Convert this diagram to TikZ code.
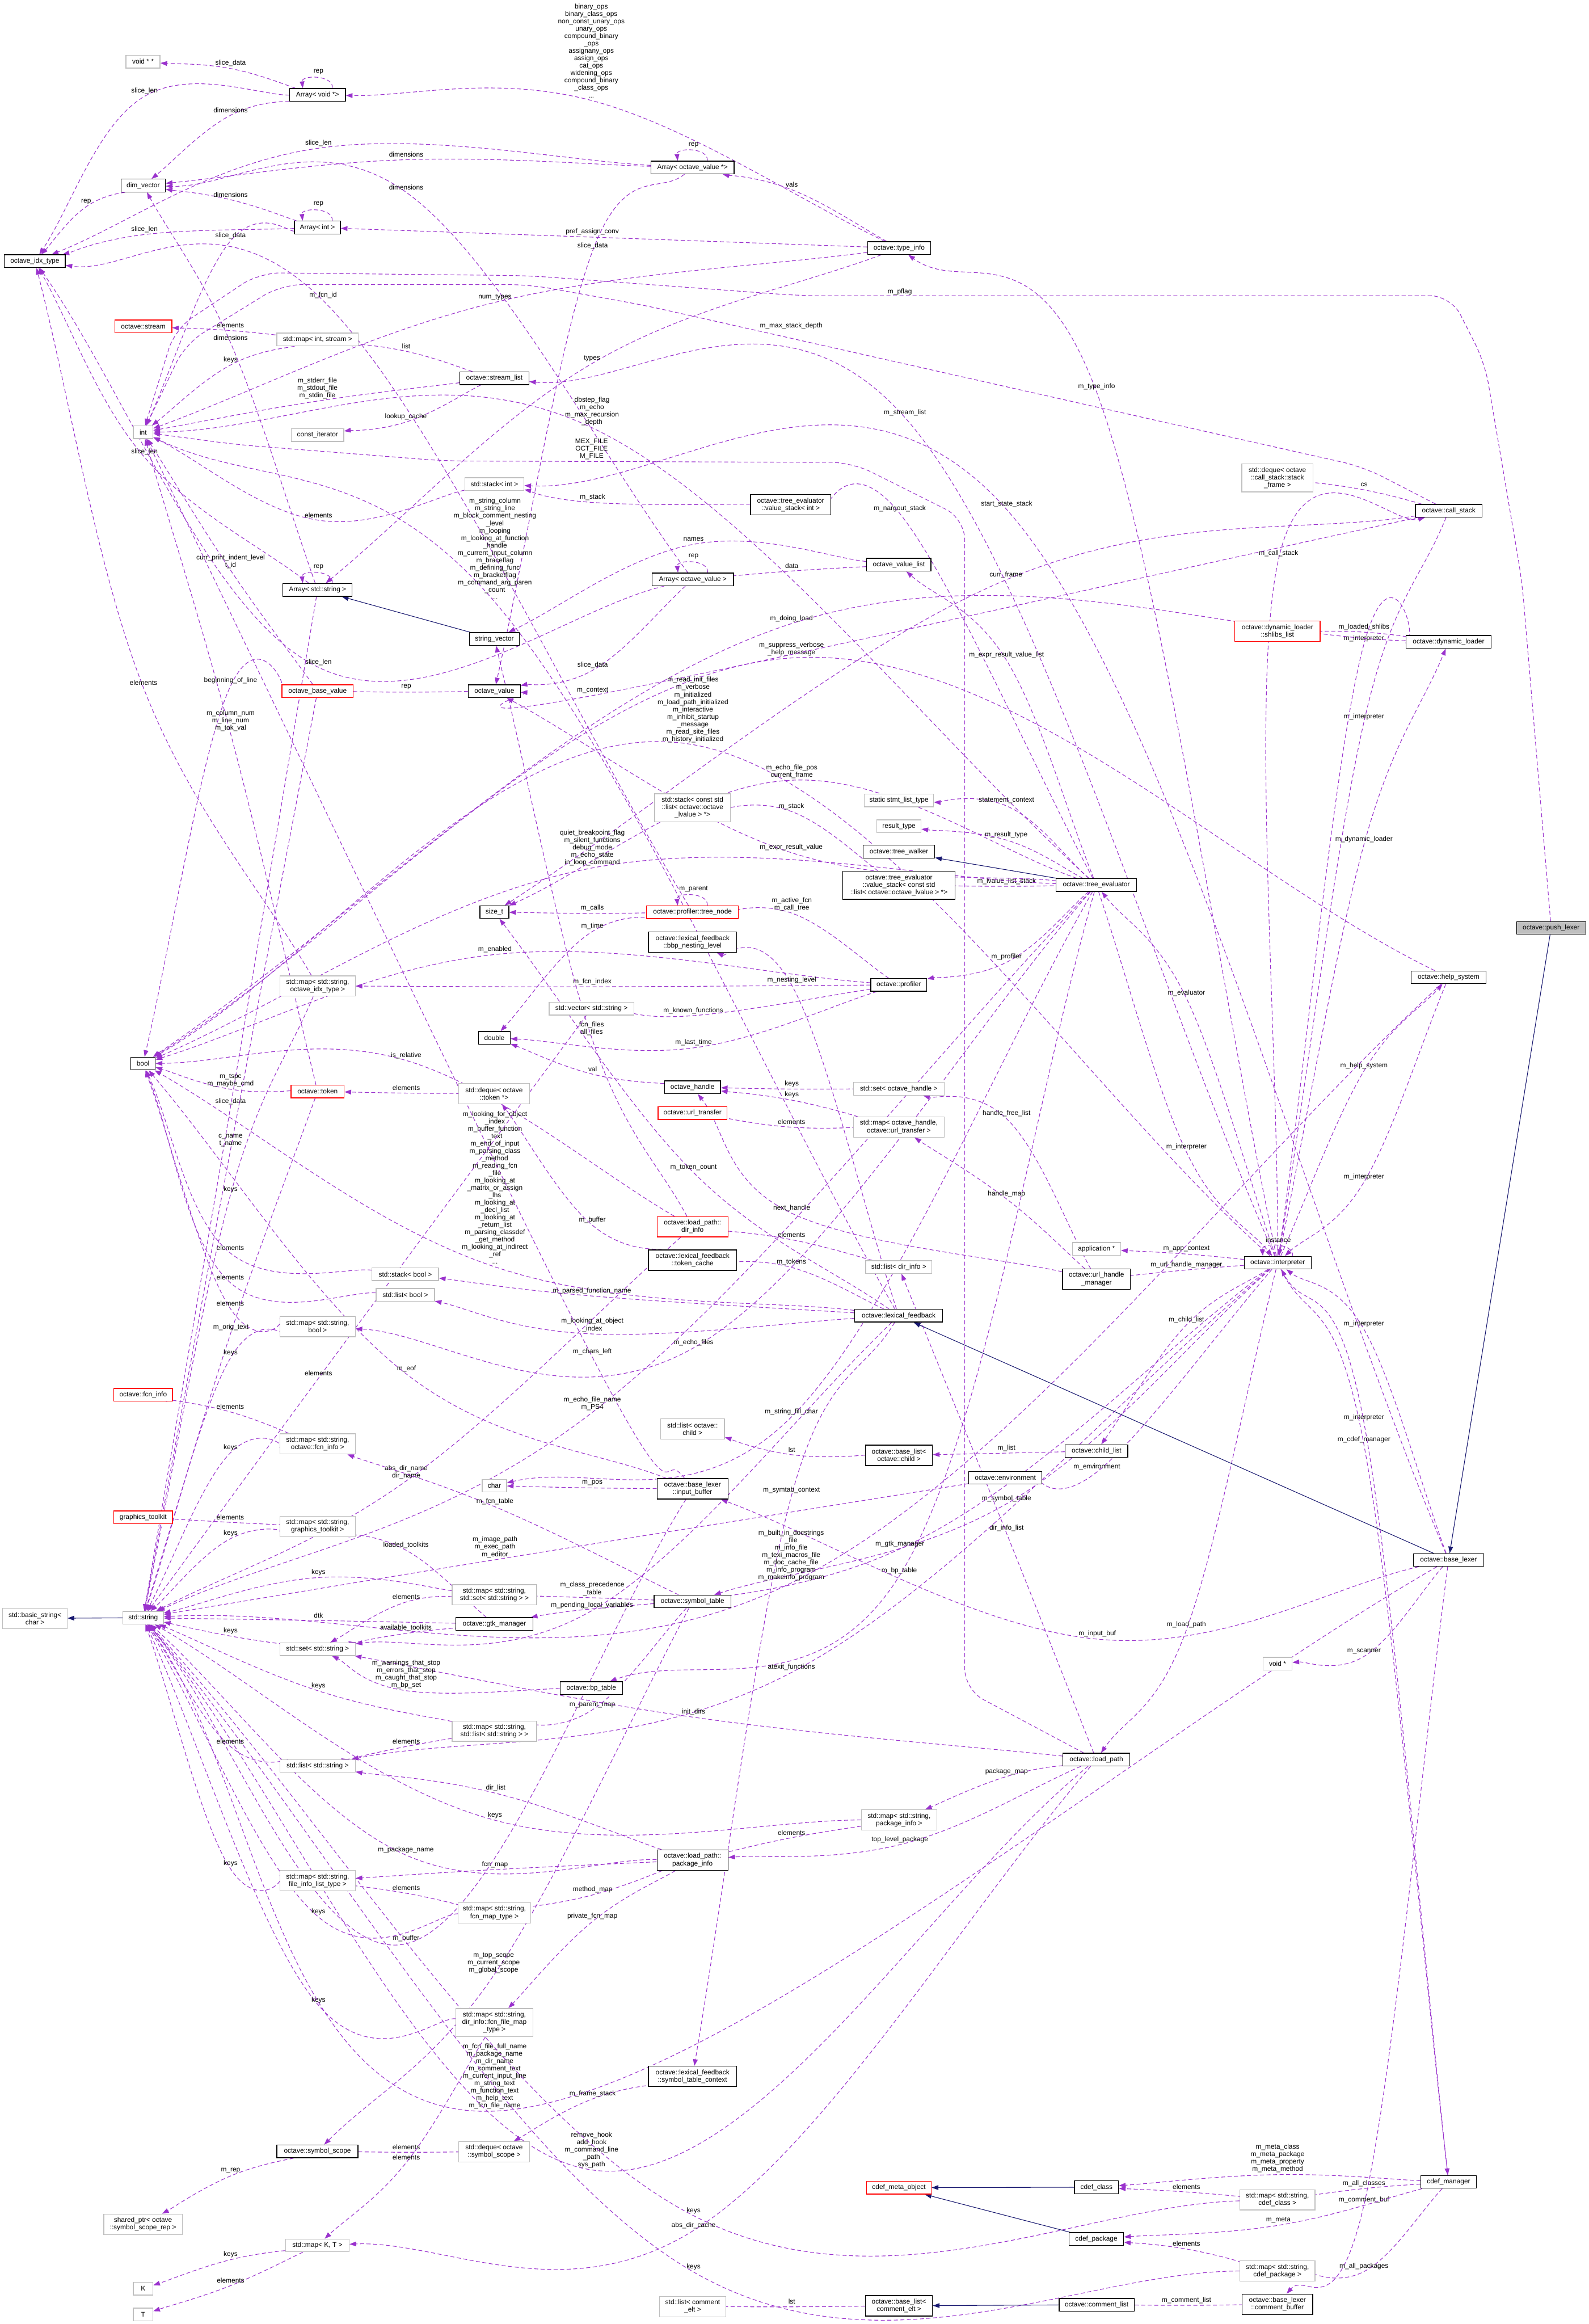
\documentclass[tikz,border=0pt]{standalone}
\usepackage{fontspec}
\setmainfont{Liberation Sans}
\usetikzlibrary{arrows.meta,calc}
\pgfdeclarelayer{bg}
\pgfsetlayers{bg,main}
\definecolor{depcol}{HTML}{9A32CD}
\definecolor{inhcol}{HTML}{191970}
\definecolor{grayb}{HTML}{BFBFBF}
\newcommand\dfont{\fontsize{13}{14.2}\selectfont}
\newcount\labc
\tikzset{
  cls/.style={draw=black, line width=0.5mm, fill=white, inner sep=0.4mm, align=center, font=\dfont},
  ext/.style={cls, draw=grayb},
  redc/.style={cls, draw=red},
  root/.style={cls, fill=grayb},
  dep/.style={draw=depcol, line width=0.42mm, dash pattern=on 2.7mm off 1.7mm, -{Triangle[length=4.5mm,width=3.2mm]}},
  inh/.style={draw=inhcol, line width=0.42mm, -{Triangle[length=4.5mm,width=3.2mm]}},
  lbl/.style={font=\dfont, align=center, inner sep=0}
}
\newcommand\nd[6]{\node[#1,minimum width=#2mm,minimum height=#3mm] (#4) at (#5) {#6};}
\newcommand\edg[5]{%
  \global\advance\labc by 1
  \path (#3) ++(0,{#4*2.5+1}) coordinate (v\the\labc);
  \draw[dep] (#1) .. controls ($(#1)!0.333!(v\the\labc)$) and ($(v\the\labc)-0.1667*(#2)+0.1667*(#1)$) .. (v\the\labc)
     .. controls ($(v\the\labc)+0.1667*(#2)-0.1667*(#1)$) and ($(#2)!0.333!(v\the\labc)$) .. (#2);
  \node[lbl] (lab\the\labc) at (#3) {#5};}
\newcommand\sloop[4]{%
  \global\advance\labc by 1
  \draw[dep] ([xshift=#2mm]#1.north) .. controls +(1,-9) and +(-1,-9) .. ([xshift=-#2mm]#1.north);
  \node[lbl] (lab\the\labc) at (#3) {#4};}
\newcommand\lab[2]{\global\advance\labc by 1 \node[lbl] (lab\the\labc) at (#1) {#2};}
\begin{document}
\begin{tikzpicture}[x=1mm,y=-1mm]
\useasboundingbox (0,0) rectangle (1072,1568);
% ---------------- nodes
\nd{ext}{23}{8.6}{voidpp}{96.5,41.6}{void * *}
\nd{cls}{37.6}{8.6}{arrvoid}{214.3,64}{Array< void *>}
\nd{cls}{56}{8.6}{arrovp}{467.3,113}{Array< octave\_value *>}
\nd{cls}{30}{8.6}{dimv}{96.6,125.2}{dim\_vector}
\nd{cls}{31}{8.6}{arrint}{214.2,153.5}{Array< int >}
\nd{cls}{42.6}{8.6}{typeinfo}{606.7,167.4}{octave::type\_info}
\nd{cls}{41}{8.6}{idx}{23.5,176.2}{octave\_idx\_type}
\nd{redc}{38.5}{8.6}{stream}{96.7,220.2}{octave::stream}
\nd{ext}{55}{8.6}{mapint}{214.3,229}{std::map< int, stream >}
\nd{cls}{46.5}{8.6}{streamlist}{333.6,255.2}{octave::stream\_list}
\nd{ext}{13.2}{8.6}{int}{96.6,291.6}{int}
\nd{ext}{35.3}{8.6}{constit}{214.3,293.5}{const\_iterator}
\nd{ext}{40}{8.6}{stackint}{333.6,326.6}{std::stack< int >}
\nd{cls}{54}{13.75}{vsint}{533.5,340.6}{octave::tree\_evaluator\\::value\_stack< int >}
\nd{ext}{48}{19}{csdeque}{862,322.4}{std::deque< octave\\::call\_stack::stack\\\_frame >}
\nd{cls}{44.9}{8.6}{callstack}{977.6,344.6}{octave::call\_stack}
\nd{cls}{43.3}{8.6}{ovl}{606.5,381}{octave\_value\_list}
\nd{cls}{55}{8.6}{arrov}{467.5,390.9}{Array< octave\_value >}
\nd{cls}{46.7}{8.6}{arrstr}{214.3,398}{Array< std::string >}
\nd{redc}{57.6}{13.75}{shlibs}{862,425.9}{octave::dynamic\_loader\\::shlibs\_list}
\nd{cls}{57.6}{8.6}{dynload}{977.5,433.1}{octave::dynamic\_loader}
\nd{cls}{33.7}{8.6}{strvec}{333.6,431.1}{string\_vector}
\nd{redc}{48}{8.6}{obv}{214.3,466.3}{octave\_base\_value}
\nd{cls}{35}{8.6}{ov}{333.6,466.3}{octave\_value}
\nd{ext}{51}{19}{stacklv}{467.3,545}{std::stack< const std\\::list< octave::octave\\\_lvalue > *>}
\nd{ext}{46.7}{8.6}{stmtlist}{606.6,540}{static stmt\_list\_type}
\nd{ext}{29.9}{8.6}{resulttype}{606.6,557.4}{result\_type}
\nd{cls}{48.3}{8.6}{treewalker}{606.6,574.6}{octave::tree\_walker}
\nd{cls}{75.7}{19}{vslv}{606.6,597.25}{octave::tree\_evaluator\\::value\_stack< const std\\::list< octave::octave\_lvalue > *>}
\nd{cls}{54.2}{8.6}{treeeval}{739.8,597.1}{octave::tree\_evaluator}
\nd{cls}{19.6}{8.6}{sizet}{333.6,615.4}{size\_t}
\nd{redc}{62}{8.6}{treenode}{467.3,615.5}{octave::profiler::tree\_node}
\nd{root}{46.7}{8.6}{pushlexer}{1046.7,626.1}{octave::push\_lexer}
\nd{cls}{59.5}{13.75}{bbp}{467.3,635.75}{octave::lexical\_feedback\\::bbp\_nesting\_level}
\nd{cls}{50.4}{8.6}{helpsys}{977.5,659.4}{octave::help\_system}
\nd{cls}{37.8}{8.6}{profiler}{606.5,664.5}{octave::profiler}
\nd{ext}{50.8}{13.75}{mapidx}{214.3,665.25}{std::map< std::string,\\octave\_idx\_type >}
\nd{ext}{57.2}{8.6}{vecstr}{399.1,680.5}{std::vector< std::string >}
\nd{cls}{21.4}{8.6}{double}{333.6,700.25}{double}
\nd{cls}{16.6}{8.6}{bool}{96.5,717.6}{bool}
\nd{cls}{37.8}{8.6}{ohandle}{467.3,733.6}{octave\_handle}
\nd{ext}{61.3}{8.6}{setoh}{606.5,734.6}{std::set< octave\_handle >}
\nd{redc}{35.8}{8.6}{token}{214.3,736.4}{octave::token}
\nd{ext}{47.8}{13.75}{dequetok}{333.4,737.9}{std::deque< octave\\::token *>}
\nd{redc}{46.5}{8.6}{urltransfer}{467.3,751}{octave::url\_transfer}
\nd{ext}{61.3}{13.75}{mapoh}{606.5,760.4}{std::map< octave\_handle,\\octave::url\_transfer >}
\nd{redc}{47.9}{13.75}{dirinfo}{467.3,827.7}{octave::load\_path::\\dir\_info}
\nd{ext}{32.6}{8.6}{appctx}{739.9,842.7}{application *}
\nd{cls}{59.5}{13.75}{tokcache}{467.3,850.2}{octave::lexical\_feedback\\::token\_cache}
\nd{cls}{45.1}{8.6}{interp}{862.2,851.9}{octave::interpreter}
\nd{ext}{44.7}{8.6}{listdir}{606.5,854.9}{std::list< dir\_info >}
\nd{ext}{44.9}{8.6}{stackbool}{273.5,859.7}{std::stack< bool >}
\nd{cls}{45.8}{13.75}{urlhm}{739.9,863}{octave::url\_handle\\\_manager}
\nd{ext}{39.4}{8.6}{listbool}{273.5,873.7}{std::list< bool >}
\nd{cls}{59.5}{8.6}{lexfb}{606.4,887.7}{octave::lexical\_feedback}
\nd{ext}{50.8}{13.75}{mapbool}{214.3,895}{std::map< std::string,\\bool >}
\nd{redc}{39.6}{8.6}{fcninfo}{96.6,941}{octave::fcn\_info}
\nd{ext}{43.1}{13.75}{listchild}{467.3,964.2}{std::list< octave::\\child >}
\nd{ext}{50.8}{13.75}{mapfcn}{214.3,974.2}{std::map< std::string,\\octave::fcn\_info >}
\nd{cls}{42.2}{8.6}{childlist}{739.9,979}{octave::child\_list}
\nd{cls}{45.3}{13.75}{baselistchild}{606.6,981.9}{octave::base\_list<\\octave::child >}
\nd{cls}{49.4}{8.6}{env}{678.4,997}{octave::environment}
\nd{ext}{16.4}{8.6}{char}{333.6,1002.4}{char}
\nd{cls}{47.9}{13.75}{inbuf}{467.3,1004.5}{octave::base\_lexer\\::input\_buffer}
\nd{redc}{39.6}{8.6}{gtk}{96.6,1023.7}{graphics\_toolkit}
\nd{ext}{50.8}{13.75}{mapgtk}{214.3,1029.9}{std::map< std::string,\\graphics\_toolkit >}
\nd{cls}{47.6}{8.6}{baselexer}{977.5,1052.5}{octave::base\_lexer}
\nd{ext}{57}{13.75}{mapsetstr}{333.6,1076}{std::map< std::string,\\std::set< std::string > >}
\nd{cls}{51.9}{8.6}{symtab}{467.3,1080.5}{octave::symbol\_table}
\nd{ext}{43.5}{13.75}{basicstr}{23.6,1091.9}{std::basic\_string<\\char >}
\nd{ext}{27.4}{8.6}{string}{96.6,1091.5}{std::string}
\nd{cls}{52}{8.6}{gtkman}{333.6,1095.7}{octave::gtk\_manager}
\nd{ext}{50.8}{8.6}{setstr}{214.3,1112.7}{std::set< std::string >}
\nd{ext}{19.6}{8.6}{voidp}{862.1,1122.5}{void *}
\nd{cls}{42}{8.6}{bptable}{399,1139}{octave::bp\_table}
\nd{ext}{57}{13.75}{maplist}{333.6,1168}{std::map< std::string,\\std::list< std::string > >}
\nd{cls}{45.1}{8.6}{loadpath}{739.8,1187.2}{octave::load\_path}
\nd{ext}{50.8}{8.6}{liststr}{214.3,1191.5}{std::list< std::string >}
\nd{ext}{50.8}{13.75}{mappkg}{606.7,1227.9}{std::map< std::string,\\package\_info >}
\nd{cls}{47.9}{13.75}{pkginfo}{467.3,1255}{octave::load\_path::\\package\_info}
\nd{ext}{50.8}{13.75}{mapfilst}{214.3,1268.9}{std::map< std::string,\\file\_info\_list\_type >}
\nd{ext}{49}{13.75}{mapfcnmap}{333.6,1290.6}{std::map< std::string,\\fcn\_map\_type >}
\nd{ext}{52}{19}{mapfcnfile}{333.6,1364.6}{std::map< std::string,\\dir\_info::fcn\_file\_map\\\_type >}
\nd{cls}{59.5}{13.75}{symtabctx}{467.3,1401}{octave::lexical\_feedback\\::symbol\_table\_context}
\nd{cls}{54.7}{8.6}{symscope}{214.2,1451.5}{octave::symbol\_scope}
\nd{ext}{47.8}{13.75}{dequescope}{333.4,1451.7}{std::deque< octave\\::symbol\_scope >}
\nd{cls}{37.6}{8.6}{cdefman}{977.5,1472.1}{cdef\_manager}
\nd{cls}{29.8}{8.6}{cdefclass}{739.9,1475.7}{cdef\_class}
\nd{redc}{43.7}{8.6}{cdefmeta}{606.6,1476}{cdef\_meta\_object}
\nd{ext}{50.8}{13.75}{mapcc}{862,1484.2}{std::map< std::string,\\cdef\_class >}
\nd{ext}{53}{13.75}{sharedptr}{96.5,1500.7}{shared\_ptr< octave\\::symbol\_scope\_rep >}
\nd{cls}{36.9}{8.6}{cdefpkg}{739.8,1510.7}{cdef\_package}
\nd{ext}{42.8}{8.6}{mapKT}{214.2,1515}{std::map< K, T >}
\nd{ext}{50.8}{13.75}{mapcp}{862,1532.2}{std::map< std::string,\\cdef\_package >}
\nd{ext}{13.2}{8.6}{K}{96.6,1544.1}{K}
\nd{cls}{50.6}{8.6}{commentlist}{740,1555}{octave::comment\_list}
\nd{cls}{47.6}{13.75}{cbuf}{862,1554.7}{octave::base\_lexer\\::comment\_buffer}
\nd{cls}{45.3}{13.75}{baselistce}{606.6,1555.7}{octave::base\_list<\\comment\_elt >}
\nd{ext}{44.7}{13.75}{listce}{467.4,1556.2}{std::list< comment\\\_elt >}
\nd{ext}{13.2}{8.6}{T}{96.6,1561.6}{T}
% ---------------- edges
\begin{pgfonlayer}{bg}
\fill[white] (0,0) rectangle (1072,1568);
\edg{arrvoid}{voidpp}{155.6,42.75}{1}{slice\_data}
\sloop{arrvoid}{10}{214.9,48.25}{rep}
\edg{arrvoid}{idx}{97.5,61.5}{1}{slice\_len}
\edg{arrvoid}{dimv}{155.6,74.25}{1}{dimensions}
\edg{arrovp}{idx}{214.9,96.5}{1}{slice\_len}
\edg{arrovp}{dimv}{274.1,104.25}{1}{dimensions}
\sloop{arrovp}{10}{468,97.75}{rep}
\edg{arrovp}{ov}{399.9,165.75}{1}{slice\_data}
\edg{dimv}{idx}{58.1,136}{1}{rep}
\sloop{arrint}{10}{214.9,137.75}{rep}
\edg{arrint}{dimv}{155.6,131.25}{1}{dimensions}
\edg{arrint}{idx}{97.5,154.75}{1}{slice\_len}
\edg{arrint}{int}{155.6,159}{1}{slice\_data}
\edg{arrov}{dimv}{274.1,126.25}{1}{dimensions}
\edg{arrov}{idx}{214.9,446.75}{1}{slice\_len}
\sloop{arrov}{10}{468,375.5}{rep}
\edg{arrov}{ov}{399.9,448.75}{1}{slice\_data}
\edg{arrstr}{idx}{97.5,305}{1}{slice\_len}
\edg{arrstr}{dimv}{155.6,227.75}{1}{dimensions}
\sloop{arrstr}{10}{214.9,382.5}{rep}
\edg{arrstr}{string}{155.6,743}{1}{slice\_data}
\edg{obv}{int}{155.6,378.75}{2}{curr\_print\_indent\_level\\t\_id}
\edg{treenode}{idx}{218,199.25}{1}{m\_fcn\_id}
\edg{typeinfo}{int}{334,200.5}{1}{num\_types}
\edg{typeinfo}{arrstr}{399.5,241.75}{1}{types}
\edg{typeinfo}{arrovp}{534.3,124.5}{1}{vals}
\edg{typeinfo}{arrint}{399.7,156.5}{1}{pref\_assign\_conv}
\edg{typeinfo}{arrvoid}{399,34.25}{13}{binary\_ops\\binary\_class\_ops\\non\_const\_unary\_ops\\unary\_ops\\compound\_binary\\\_ops\\assignany\_ops\\assign\_ops\\cat\_ops\\widening\_ops\\compound\_binary\\\_class\_ops\\...}
% routed long edges
\draw[dep, rounded corners=14mm] (pushlexer) -- (1027,392) -- (1002,245) -- (979,199.5) -- (540,199.5) -- (357,186) -- (175,184) -- (118,222) -- (int);
\lab{607.2,196.75}{m\_pflag}
\draw[dep, rounded corners=14mm] (callstack) -- (920,315) -- (715,269) -- (435,206) -- (357,192) -- (190,192) -- (125,232) -- (int);
\lab{533.9,219.75}{m\_max\_stack\_depth}
\draw[dep, rounded corners=14mm] (loadpath) -- (651,1140) -- (651,350) -- (575,312) -- (300,311) -- (160,300) -- (int);
\lab{399.2,303}{MEX\_FILE\\OCT\_FILE\\M\_FILE}
\edg{interp}{typeinfo}{740,261}{1}{m\_type\_info}
\edg{callstack}{csdeque}{920.5,327}{1}{cs}
\edg{interp}{callstack}{862.8,373.5}{1}{m\_call\_stack}
\edg{callstack}{sizet}{678.8,387.75}{1}{curr\_frame}
\edg{callstack}{interp}{920.4,483.5}{1}{m\_interpreter}
\edg{dynload}{shlibs}{920.4,423}{1}{m\_loaded\_shlibs}
\edg{dynload}{interp}{920.4,431}{1}{m\_interpreter}
\edg{interp}{dynload}{920.4,566.25}{1}{m\_dynamic\_loader}
\edg{interp}{treeeval}{800.6,670}{1}{m\_evaluator}
\edg{interp}{helpsys}{920.4,719}{1}{m\_help\_system}
\edg{treeeval}{interp}{800.6,773.75}{1}{m\_interpreter}
\edg{helpsys}{interp}{920.4,794}{1}{m\_interpreter}
\sloop{interp}{10}{862.6,836.6}{instance}
\edg{interp}{appctx}{800.6,842.6}{1}{m\_app\_context}
\edg{interp}{urlhm}{800.6,853.35}{1}{m\_url\_handle\_manager}
\edg{interp}{childlist}{800.6,890.4}{1}{m\_child\_list}
\edg{baselexer}{interp}{920.4,893.4}{1}{m\_interpreter}
\edg{cdefman}{interp}{920.4,956.4}{1}{m\_interpreter}
\edg{interp}{cdefman}{920.4,971.4}{1}{m\_cdef\_manager}
\edg{interp}{env}{740.2,989.6}{1}{m\_environment}
\edg{interp}{symtab}{679.2,1011.1}{1}{m\_symbol\_table}
\edg{loadpath}{listdir}{679.2,1030.9}{1}{dir\_info\_list}
\edg{interp}{gtkman}{607.2,1041.6}{1}{m\_gtk\_manager}
\edg{treeeval}{bptable}{606.8,1059.9}{1}{m\_bp\_table}
\edg{interp}{loadpath}{800.6,1096.1}{1}{m\_load\_path}
\edg{baselexer}{inbuf}{740.4,1102.4}{1}{m\_input\_buf}
\edg{baselexer}{voidp}{920.4,1114.1}{1}{m\_scanner}
\edg{interp}{liststr}{534.1,1124.9}{1}{atexit\_functions}
\edg{loadpath}{setstr}{468,1155.1}{1}{init\_dirs}
\edg{symtab}{maplist}{399.7,1150.1}{1}{m\_parent\_map}
\edg{loadpath}{mappkg}{679.2,1195.1}{1}{package\_map}
\edg{loadpath}{pkginfo}{607.2,1241.1}{1}{top\_level\_package}
\edg{mappkg}{pkginfo}{534.1,1236.4}{1}{elements}
\edg{mappkg}{string}{334,1224.6}{1}{keys}
\edg{pkginfo}{liststr}{334.5,1206.4}{1}{dir\_list}
\edg{pkginfo}{string}{273.9,1248.1}{1}{m\_package\_name}
\edg{pkginfo}{mapfilst}{334,1257.9}{1}{fcn\_map}
\edg{mapfcnmap}{mapfilst}{274.1,1273.85}{1}{elements}
\edg{mapfilst}{string}{155.6,1257.4}{1}{keys}
\edg{mapfcnmap}{string}{214.9,1289.9}{1}{keys}
\edg{inbuf}{string}{274.1,1307.9}{1}{m\_buffer}
\edg{pkginfo}{mapfcnmap}{399.9,1275}{1}{method\_map}
\edg{pkginfo}{mapfcnfile}{399.7,1293}{1}{private\_fcn\_map}
\edg{symtab}{symscope}{333.1,1324.3}{3}{m\_top\_scope\\m\_current\_scope\\m\_global\_scope}
\edg{mapfcnfile}{string}{214.9,1349.4}{1}{keys}
\edg{baselexer}{string}{333.8,1400.85}{9}{m\_fcn\_file\_full\_name\\m\_package\_name\\m\_dir\_name\\m\_comment\_text\\m\_current\_input\_line\\m\_string\_text\\m\_function\_text\\m\_help\_text\\m\_fcn\_file\_name}
\edg{dequescope}{symscope}{274.1,1448.6}{1}{elements}
\edg{mapfcnfile}{mapKT}{274.1,1455.6}{1}{elements}
\edg{symtabctx}{dequescope}{399.9,1412.6}{1}{m\_frame\_stack}
\edg{loadpath}{string}{399.2,1450.5}{5}{remove\_hook\\add\_hook\\m\_command\_line\\\_path\\sys\_path}
\edg{symscope}{sharedptr}{155.6,1464.6}{1}{m\_rep}
\edg{mapKT}{K}{155.6,1521.1}{1}{keys}
\edg{mapKT}{T}{155.6,1538.6}{1}{elements}
\edg{mapcc}{string}{468,1491.4}{1}{keys}
\edg{loadpath}{mapKT}{468,1501.4}{1}{abs\_dir\_cache}
\edg{mapcp}{string}{468,1529.4}{1}{keys}
\edg{baselistce}{listce}{534.3,1552.9}{1}{lst}
\edg{cbuf}{commentlist}{800.6,1551.9}{1}{m\_comment\_list}
\edg{cdefman}{cdefclass}{862.1,1456.2}{4}{m\_meta\_class\\m\_meta\_package\\m\_meta\_property\\m\_meta\_method}
\edg{mapcc}{cdefclass}{800.6,1475.4}{1}{elements}
\edg{cdefman}{mapcc}{920.4,1473.1}{1}{m\_all\_classes}
\edg{baselexer}{cbuf}{920.4,1484.1}{1}{m\_comment\_buf}
\edg{cdefman}{cdefpkg}{862.6,1497.9}{1}{m\_meta}
\edg{mapcp}{cdefpkg}{800.6,1513.9}{1}{elements}
\edg{cdefman}{mapcp}{920.4,1529.1}{1}{m\_all\_packages}
\edg{mapint}{stream}{155.4,219.5}{1}{elements}
\edg{streamlist}{mapint}{274.1,233.5}{1}{list}
\edg{mapint}{int}{155.6,242.75}{1}{keys}
\edg{streamlist}{int}{214.2,262.1}{3}{m\_stderr\_file\\m\_stdout\_file\\m\_stdin\_file}
\edg{streamlist}{constit}{273.9,281.25}{1}{lookup\_cache}
\edg{stackint}{int}{214.9,347.5}{1}{elements}
\edg{lexfb}{int}{334,370.3}{14}{m\_string\_column\\m\_string\_line\\m\_block\_comment\_nesting\\\_level\\m\_looping\\m\_looking\_at\_function\\\_handle\\m\_current\_input\_column\\m\_braceflag\\m\_defining\_func\\m\_bracketflag\\m\_command\_arg\_paren\\\_count\\...}
\edg{interp}{streamlist}{610.7,278.25}{1}{m\_stream\_list}
\edg{treeeval}{int}{399.5,277.6}{4}{dbstep\_flag\\m\_echo\\m\_max\_recursion\\\_depth}
\edg{vsint}{stackint}{399.9,335.5}{1}{m\_stack}
\edg{treeeval}{vsint}{607.2,343}{1}{m\_nargout\_stack}
\edg{baselexer}{stackint}{679.3,340.25}{1}{start\_state\_stack}
\edg{ovl}{strvec}{468,363.75}{1}{names}
\edg{ovl}{arrov}{534.3,381.75}{1}{data}
\edg{mapidx}{idx}{96.8,460.5}{1}{elements}
\edg{obv}{bool}{155.6,459.25}{1}{beginning\_of\_line}
\edg{ov}{obv}{274.1,463.5}{1}{rep}
\edg{token}{int}{155.6,486.4}{3}{m\_column\_num\\m\_line\_num\\m\_tok\_val}
\edg{profiler}{bool}{334,640.5}{1}{m\_enabled}
\edg{dirinfo}{bool}{274.1,712}{1}{is\_relative}
\edg{token}{bool}{155.6,728.9}{2}{m\_tspc\\m\_maybe\_cmd}
\edg{dequetok}{token}{274.1,734}{1}{elements}
\edg{lexfb}{bool}{334,801.25}{21}{m\_looking\_for\_object\\\_index\\m\_buffer\_function\\\_text\\m\_end\_of\_input\\m\_parsing\_class\\\_method\\m\_reading\_fcn\\\_file\\m\_looking\_at\\\_matrix\_or\_assign\\\_lhs\\m\_looking\_at\\\_decl\_list\\m\_looking\_at\\\_return\_list\\m\_parsing\_classdef\\\_get\_method\\m\_looking\_at\_indirect\\\_ref\\...}
\edg{obv}{string}{155.6,769.5}{2}{c\_name\\t\_name}
\edg{dynload}{bool}{534.1,417.25}{1}{m\_doing\_load}
\edg{helpsys}{bool}{534.1,437.9}{2}{m\_suppress\_verbose\\\_help\_message}
\edg{callstack}{ov}{399.9,465.75}{1}{m\_context}
\edg{interp}{bool}{467.6,478.9}{9}{m\_read\_init\_files\\m\_verbose\\m\_initialized\\m\_load\_path\_initialized\\m\_interactive\\m\_inhibit\_startup\\\_message\\m\_read\_site\_files\\m\_history\_initialized}
\edg{treeeval}{sizet}{534.3,520.4}{2}{m\_echo\_file\_pos\\current\_frame}
\edg{vslv}{stacklv}{534.1,544}{1}{m\_stack}
\edg{treeeval}{stmtlist}{679.2,540.25}{1}{statement\_context}
\edg{treeeval}{resulttype}{679,563.25}{1}{m\_result\_type}
\edg{treeeval}{vslv}{679.2,594.5}{1}{m\_lvalue\_list\_stack}
\edg{treeeval}{ov}{533.9,571.75}{1}{m\_expr\_result\_value}
\edg{treeeval}{bool}{399.7,572.1}{5}{quiet\_breakpoint\_flag\\m\_silent\_functions\\debug\_mode\\m\_echo\_state\\in\_loop\_command}
\sloop{treenode}{10}{468,600}{m\_parent}
\edg{profiler}{treenode}{534.3,610.1}{2}{m\_active\_fcn\\m\_call\_tree}
\edg{treenode}{sizet}{399.7,612.75}{1}{m\_calls}
\edg{treenode}{double}{399.7,625}{1}{m\_time}
\edg{lexfb}{bbp}{534.3,661.25}{1}{m\_nesting\_level}
\edg{treeeval}{profiler}{679.2,645.75}{1}{m\_profiler}
\edg{profiler}{mapidx}{399.7,662.25}{1}{m\_fcn\_index}
\edg{profiler}{vecstr}{467.8,681.75}{1}{m\_known\_functions}
\edg{dirinfo}{strvec}{399.2,693.9}{2}{fcn\_files\\all\_files}
\edg{profiler}{double}{468,703.5}{1}{m\_last\_time}
\edg{ohandle}{double}{399.9,721.25}{1}{val}
\edg{setoh}{ohandle}{534.3,731.25}{1}{keys}
\edg{mapoh}{ohandle}{534.3,738.75}{1}{keys}
\edg{mapoh}{urltransfer}{534.1,757}{1}{elements}
\edg{treeeval}{ovl}{679.2,442}{1}{m\_expr\_result\_value\_list}
\edg{urlhm}{setoh}{679.2,751.25}{1}{handle\_free\_list}
\edg{lexfb}{sizet}{468,787.6}{1}{m\_token\_count}
\edg{urlhm}{ohandle}{534.3,815.1}{1}{next\_handle}
\edg{urlhm}{mapoh}{679.2,805.4}{1}{handle\_map}
\edg{listdir}{dirinfo}{534.1,832.9}{1}{elements}
\edg{lexfb}{tokcache}{534.1,851.6}{1}{m\_tokens}
\edg{tokcache}{dequetok}{399.7,823.1}{1}{m\_buffer}
\edg{lexfb}{stackbool}{399.5,870.9}{1}{m\_parsed\_function\_name}
\edg{lexfb}{listbool}{399.7,894}{2}{m\_looking\_at\_object\\\_index}
\edg{treeeval}{mapbool}{468,905.9}{1}{m\_echo\_files}
\edg{inbuf}{int}{399.7,912.1}{1}{m\_chars\_left}
\edg{treeeval}{string}{399.7,946.9}{2}{m\_echo\_file\_name\\m\_PS4}
\edg{treeeval}{char}{534.1,952.4}{1}{m\_string\_fill\_char}
\edg{inbuf}{char}{399.7,1000.4}{1}{m\_pos}
\edg{lexfb}{symtabctx}{534.1,1005.6}{1}{m\_symtab\_context}
\edg{helpsys}{string}{533.9,1049.5}{7}{m\_built\_in\_docstrings\\\_file\\m\_info\_file\\m\_texi\_macros\_file\\m\_doc\_cache\_file\\m\_info\_program\\m\_makeinfo\_program}
\edg{symtab}{mapsetstr}{399.7,1072}{2}{m\_class\_precedence\\\_table}
\edg{lexfb}{setstr}{399.5,1083.1}{1}{m\_pending\_local\_variables}
\edg{mapidx}{string}{155.6,802.35}{1}{keys}
\edg{stackbool}{bool}{155.4,841.9}{1}{elements}
\edg{listbool}{bool}{155.4,861.9}{1}{elements}
\edg{mapbool}{bool}{155.4,879.35}{1}{elements}
\edg{token}{string}{155.8,895.6}{1}{m\_orig\_text}
\edg{mapbool}{string}{155.6,912.6}{1}{keys}
\edg{inbuf}{bool}{274.3,923.6}{1}{m\_eof}
\edg{vecstr}{string}{214.9,926.35}{1}{elements}
\edg{mapfcn}{fcninfo}{155.4,949.1}{1}{elements}
\edg{mapfcn}{string}{155.6,976.6}{1}{keys}
\edg{dirinfo}{string}{274.1,993.2}{2}{abs\_dir\_name\\dir\_name}
\edg{symtab}{mapfcn}{334,1013.1}{1}{m\_fcn\_table}
\edg{mapgtk}{gtk}{155.4,1023.6}{1}{elements}
\edg{mapgtk}{string}{155.6,1034.6}{1}{keys}
\edg{gtkman}{mapgtk}{273.9,1042.35}{1}{loaded\_toolkits}
\edg{env}{string}{334,1043.85}{3}{m\_image\_path\\m\_exec\_path\\m\_editor}
\edg{mapsetstr}{string}{214.9,1060.85}{1}{keys}
\edg{mapsetstr}{setstr}{274.1,1077.35}{1}{elements}
\edg{gtkman}{string}{214.9,1089.85}{1}{dtk}
\edg{gtkman}{setstr}{273.9,1098.6}{1}{available\_toolkits}
\edg{setstr}{string}{155.6,1100.35}{1}{keys}
\edg{bptable}{setstr}{274.1,1129.7}{4}{m\_warnings\_that\_stop\\m\_errors\_that\_stop\\m\_caught\_that\_stop\\m\_bp\_set}
\edg{maplist}{string}{214.9,1137.35}{1}{keys}
\edg{liststr}{string}{155.4,1174.8}{1}{elements}
\edg{maplist}{liststr}{274.1,1174.85}{1}{elements}
\edg{childlist}{baselistchild}{679.2,976.9}{1}{m\_list}
\edg{baselistchild}{listchild}{534.3,978}{1}{lst}
% inheritance
\draw[inh] (strvec) -- (arrstr);
\draw[inh] (treeeval) -- (treewalker);
\draw[inh] (pushlexer) -- (baselexer);
\draw[inh] (baselexer) -- (lexfb);
\draw[inh] (string) -- (basicstr);
\draw[inh] (cdefclass) -- (cdefmeta);
\draw[inh] (cdefpkg) -- (cdefmeta);
\draw[inh] (commentlist) -- (baselistce);
\end{pgfonlayer}
\end{tikzpicture}
\end{document}
